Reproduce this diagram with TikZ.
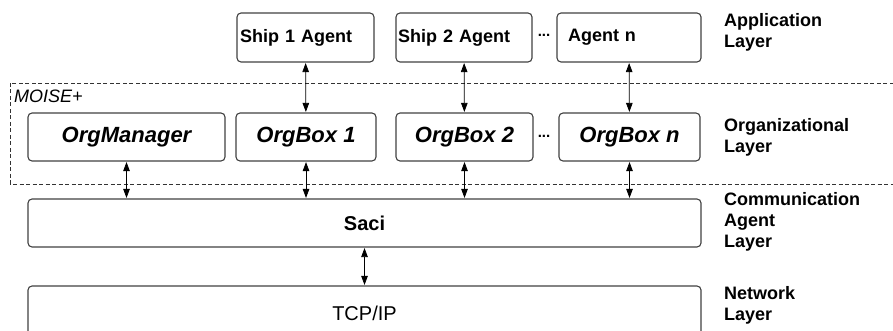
\documentclass[tikz,border=0pt]{standalone}
\usepackage{fontspec}
\setmainfont{Liberation Sans}
\usetikzlibrary{arrows.meta}
\tikzset{
  box/.style={draw=black!75,line width=1.1pt,rounded corners=4pt,inner ysep=0pt},
  agentbox/.style={box,minimum height=49pt,align=left,
    font=\fontsize{18}{21}\selectfont\bfseries},
  orgbox/.style={box,minimum height=48pt,inner xsep=0pt,
    font=\fontsize{22}{24}\selectfont\bfseries\itshape},
  layerbox/.style={box,minimum width=673pt,inner xsep=0pt},
  layerlabel/.style={anchor=north west,inner sep=0pt,align=left,
    font=\fontsize{18}{21}\selectfont\bfseries},
  dots/.style={inner sep=0pt,font=\fontsize{15}{15}\selectfont\bfseries},
  biarrow/.style={{Triangle[length=9pt,width=6.5pt]}-{Triangle[length=9pt,width=6.5pt]},
    line width=0.8pt,shorten <=0.5pt,shorten >=0.5pt},
}
\begin{document}
\begin{tikzpicture}[x=1pt,y=-1pt]
\useasboundingbox (0,0) rectangle (893,331);
\clip (0,0) rectangle (893,331);
% application layer
\node[agentbox,inner xsep=3pt,text width=131pt] (ship1) at (305.5,37.5) {Ship 1 Agent};
\node[agentbox,inner xsep=2pt,text width=132pt] (ship2) at (464,37.5) {Ship 2 Agent};
\node[dots] (adots) at (544,35) {...};
\node[agentbox,inner xsep=11pt,text width=122pt] (agentn) at (629,37.5) {Agent n};
% organizational layer (MOISE+)
\draw[black!80,line width=0.7pt,dash pattern=on 4pt off 2.5pt] (10,83) rectangle (900,184);
\node[anchor=north west,inner sep=0pt,font=\fontsize{18}{21}\selectfont\itshape] (moise) at (14,90) {MOISE+};
\node[orgbox,minimum width=197pt] (orgman) at (126.5,137) {OrgManager};
\node[orgbox,minimum width=140pt] (orgbox1) at (306,137) {OrgBox 1};
\node[orgbox,minimum width=137pt] (orgbox2) at (464.5,137) {OrgBox 2};
\node[dots] (odots) at (544,136) {...};
\node[orgbox,minimum width=141pt] (orgboxn) at (629.5,137) {OrgBox n};
% communication and network layers
\node[layerbox,minimum height=48pt,font=\fontsize{20}{24}\selectfont\bfseries] (saci) at (364.5,223) {Saci};
\node[layerbox,minimum height=54pt,font=\fontsize{20}{24}\selectfont] (tcpip) at (364.5,313) {TCP/IP};
% layer names
\node[layerlabel] (lapp) at (724,13) {Application\\Layer};
\node[layerlabel] (lorg) at (724,118) {Organizational\\Layer};
\node[layerlabel] (lcom) at (724,192) {Communication\\Agent\\Layer};
\node[layerlabel] (lnet) at (724,286) {Network\\Layer};
% links
\draw[biarrow] (ship1) -- (orgbox1);
\draw[biarrow] (ship2) -- (orgbox2);
\draw[biarrow] (agentn) -- (orgboxn);
\foreach \b in {orgman,orgbox1,orgbox2,orgboxn}
  \draw[biarrow] (\b.south) -- (\b.south |- saci.north);
\draw[biarrow] (saci) -- (tcpip);
\end{tikzpicture}
\end{document}
